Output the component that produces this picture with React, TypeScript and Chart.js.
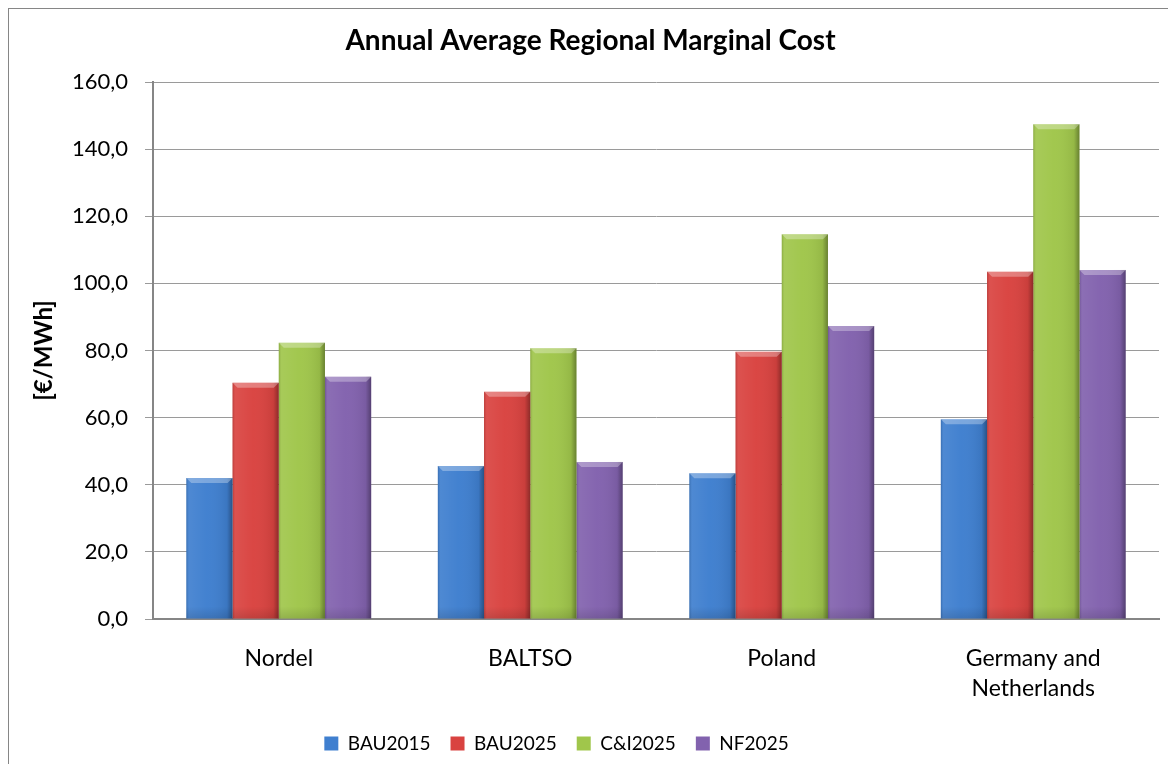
import React, { useEffect, useRef } from "react";
import { Chart, registerables } from "chart.js";

Chart.register(...registerables);

const categories: (string | string[])[] = ["Nordel", "BALTSO", "Poland", ["Germany and", "Netherlands"]];
const seriesNames = ["BAU2015", "BAU2025", "C&I2025", "NF2025"];
const bau2015 = [42.0, 45.6, 43.4, 59.5];
const bau2025 = [70.4, 67.7, 79.6, 103.5];
const ci2025 = [82.3, 80.7, 114.6, 147.4];
const nf2025 = [72.2, 46.8, 87.3, 104.0];
const seriesColors = ["#3f7fcf", "#d94340", "#a0c64b", "#8262ae"];
const yMin = 0;
const yMax = 160;
const yStep = 20;
const chartTitle = "Annual Average Regional Marginal Cost";
const yTitle = "[€/MWh]";

const FONT = "Lato, 'Open Sans', sans-serif";

const framePlugin = {
  id: "frame",
  beforeDraw(chart: any) {
    const ctx = chart.ctx;
    ctx.save();
    ctx.fillStyle = "#ffffff";
    ctx.fillRect(0, 0, chart.width, chart.height);
    ctx.strokeStyle = "#868686";
    ctx.lineWidth = 1;
    ctx.strokeRect(8.5, 8.5, chart.width + 20, chart.height + 20);
    ctx.restore();
  },
};

const shiftPlugin = {
  id: "shift",
  afterLayout(chart: any) {
    const lg = chart.legend;
    if (lg) {
      lg.left -= 27;
      lg.right -= 27;
    }
    const tb = chart.titleBlock;
    if (tb) {
      tb.left += 7;
      tb.right += 7;
    }
  },
};

const bevelPlugin = {
  id: "bevel",
  afterDatasetsDraw(chart: any) {
    const ctx = chart.ctx;
    chart.data.datasets.forEach((_ds: any, i: number) => {
      const meta = chart.getDatasetMeta(i);
      meta.data.forEach((bar: any) => {
        const p = bar.getProps(["x", "y", "base", "width"], true);
        const l = p.x - p.width / 2;
        const r = p.x + p.width / 2;
        const t = Math.min(p.y, p.base);
        const b = Math.max(p.y, p.base);
        const h = b - t;
        ctx.save();
        const g = ctx.createLinearGradient(l, 0, r, 0);
        g.addColorStop(0, "rgba(0,0,0,0.14)");
        g.addColorStop(0.06, "rgba(255,255,255,0.08)");
        g.addColorStop(0.45, "rgba(255,255,255,0.02)");
        g.addColorStop(0.88, "rgba(0,0,0,0.07)");
        g.addColorStop(1, "rgba(0,0,0,0.35)");
        ctx.fillStyle = g;
        ctx.fillRect(l, t, p.width, h);
        const bv = Math.min(5, h / 2);
        ctx.beginPath();
        ctx.moveTo(l, t);
        ctx.lineTo(r, t);
        ctx.lineTo(r - bv, t + bv);
        ctx.lineTo(l + bv, t + bv);
        ctx.closePath();
        ctx.fillStyle = "rgba(255,255,255,0.3)";
        ctx.fill();
        const vg = ctx.createLinearGradient(0, b - 12, 0, b);
        vg.addColorStop(0, "rgba(0,0,0,0)");
        vg.addColorStop(1, "rgba(0,0,0,0.12)");
        ctx.fillStyle = vg;
        ctx.fillRect(l, Math.max(t, b - 12), p.width, Math.min(12, h));
        ctx.restore();
      });
    });
  },
};

export default function App() {
  const ref = useRef<HTMLCanvasElement | null>(null);

  useEffect(() => {
    if (!ref.current) return;
    const values = [bau2015, bau2025, ci2025, nf2025];
    const chart = new Chart(ref.current, {
      type: "bar",
      data: {
        labels: categories as any,
        datasets: seriesNames.map((name, i) => ({
          label: name,
          data: values[i],
          backgroundColor: seriesColors[i],
          borderWidth: 0,
          barPercentage: 1,
          categoryPercentage: 0.735,
        })),
      },
      plugins: [framePlugin, shiftPlugin, bevelPlugin],
      options: {
        animation: false,
        responsive: false,
        maintainAspectRatio: false,
        layout: { padding: { left: 8, right: 9, top: 0, bottom: 37 } },
        plugins: {
          title: {
            display: true,
            text: chartTitle,
            color: "#000000",
            font: { family: FONT, size: 28, weight: "bold" },
            padding: { top: 24, bottom: 24.4 },
          },
          legend: {
            position: "bottom",
            labels: {
              color: "#000000",
              font: { family: FONT, size: 19 },
              boxWidth: 14,
              boxHeight: 14,
              padding: 20,
            },
          },
          tooltip: { enabled: false },
        },
        scales: {
          x: {
            grid: { display: false, drawTicks: false },
            border: { display: true, color: "#868686", width: 2 },
            ticks: {
              color: "#000000",
              font: { family: FONT, size: 23, lineHeight: 1.3 },
              padding: 25,
              maxRotation: 0,
            },
            afterFit: (s: any) => {
              s.height = 95;
            },
          },
          y: {
            min: yMin,
            max: yMax,
            ticks: {
              stepSize: yStep,
              color: "#000000",
              font: { family: FONT, size: 22 },
              padding: 17,
              callback: (v: any) => Number(v).toFixed(1).replace(".", ","),
            },
            grid: { color: "#9a9a9a", lineWidth: 1, tickLength: 8 },
            border: { display: true, color: "#868686", width: 2 },
            title: {
              display: true,
              text: yTitle,
              color: "#000000",
              font: { family: FONT, size: 24, weight: "bold" },
              padding: { top: 22, bottom: 0 },
            },
            afterFit: (s: any) => {
              s.width = 145;
            },
          },
        },
      },
    });
    return () => chart.destroy();
  }, []);

  return (
    <div style={{ position: "absolute", left: 0, top: 0, width: 1168, height: 764, overflow: "hidden", background: "#fff" }}>
      <canvas ref={ref} width={1168} height={800} style={{ display: "block", width: 1168, height: 800 }} />
    </div>
  );
}
